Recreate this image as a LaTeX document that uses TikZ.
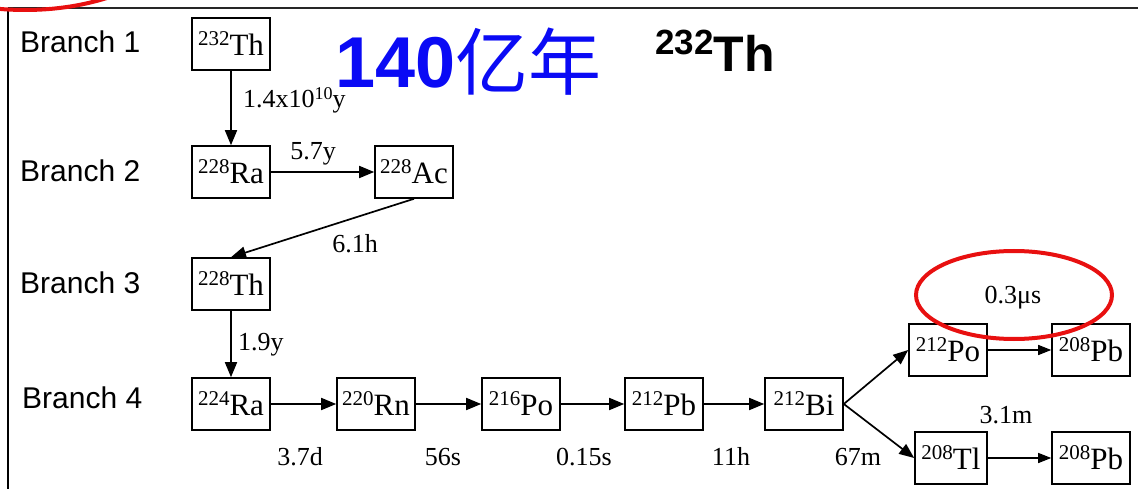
\documentclass[tikz,border=0pt]{standalone}
\usepackage{fontspec}
\setmainfont{Liberation Serif}
\setsansfont{Liberation Sans}
\newfontfamily\cjk{Noto Sans CJK SC}
\usetikzlibrary{arrows.meta}
\definecolor{markred}{RGB}{232,16,16}
\definecolor{titleblue}{RGB}{10,10,245}
\newcommand{\iso}[2]{\raisebox{10pt}{\fontsize{21}{21}\selectfont #1}#2}
\begin{document}
\begin{tikzpicture}[
x=1pt,
y=-1pt,
every node/.style={inner sep=0pt},
nuc/.style={draw,line width=1.6pt,minimum width=78pt,minimum height=52pt,font=\fontsize{31}{31}\selectfont},
hl/.style={font=\fontsize{26}{26}\selectfont,anchor=base},
br/.style={font=\sffamily\fontsize{30}{30}\selectfont,anchor=base west},
decay/.style={line width=1.7pt,-{Triangle[length=15pt,width=12pt]}},
thin/.style={line width=1.2pt,-{Triangle[length=13pt,width=10pt]}}
]
\useasboundingbox (0,0) rectangle (1138,489);
\draw[line width=2.4pt,black!85] (8,8)--(1138,8);
\draw[line width=1.8pt] (8,8)--(8,489);

\node[br] (b1) at (20,53) {Branch 1};
\node[br] (b2) at (20,182) {Branch 2};
\node[br] (b3) at (20,293) {Branch 3};
\node[br] (b4) at (22,408) {Branch 4};

\node[anchor=base west,text=titleblue,font=\sffamily\bfseries\fontsize{72}{72}\selectfont] (title) at (335,88)
  {140\cjk\mdseries\fontsize{73}{73}\selectfont\raisebox{-2pt}{亿年}};
\node[anchor=base west,font=\sffamily\bfseries] (head) at (655,72)
  {\raisebox{17pt}{\fontsize{35}{35}\selectfont 232}\fontsize{50}{50}\selectfont Th};

\node[nuc] (th232) at (231,44) {\iso{232}{Th}};
\node[nuc] (ra228) at (231,172) {\iso{228}{Ra}};
\node[nuc] (ac228) at (414,172) {\iso{228}{Ac}};
\node[nuc] (th228) at (231,284) {\iso{228}{Th}};
\node[nuc] (ra224) at (231,404) {\iso{224}{Ra}};
\node[nuc] (rn220) at (376,404) {\iso{220}{Rn}};
\node[nuc] (po216) at (521,404) {\iso{216}{Po}};
\node[nuc] (pb212) at (664,404) {\iso{212}{Pb}};
\node[nuc] (bi212) at (804,404) {\iso{212}{Bi}};
\node[nuc] (po212) at (948,350) {\iso{212}{Po}};
\node[nuc] (pb208a) at (1091,350) {\iso{208}{Pb}};
\node[nuc,minimum width=72pt] (tl208) at (951,458) {\iso{208}{Tl}};
\node[nuc] (pb208b) at (1091,458) {\iso{208}{Pb}};

\draw[decay] (th232)--(ra228);
\draw[decay] (ra228)--(ac228);
\draw[decay] (ac228.south)--(th228.north);
\draw[decay] (th228)--(ra224);
\draw[decay] (ra224)--(rn220);
\draw[decay] (rn220)--(po216);
\draw[decay] (po216)--(pb212);
\draw[decay] (pb212)--(bi212);
\draw[decay] (bi212.east)--(po212.west);
\draw[decay] (bi212.east)--(tl208.west);
\draw[thin] (po212)--(pb208a);
\draw[thin] (tl208)--(pb208b);

\node[hl,anchor=base west] (t1) at (243,108) {1.4x10\raisebox{8pt}{\fontsize{18}{18}\selectfont 10}y};
\node[hl] (t2) at (313,160) {5.7y};
\node[hl] (t3) at (355,252) {6.1h};
\node[hl,anchor=base west] (t4) at (238,350) {1.9y};
\node[hl] (t5) at (300,465) {3.7d};
\node[hl] (t6) at (443,465) {56s};
\node[hl] (t7) at (584,465) {0.15s};
\node[hl] (t8) at (731,465) {11h};
\node[hl] (t9) at (858,465) {67m};
\node[hl] (t10) at (1006,423) {3.1m};
\node[hl] (t11) at (1013,303) {0.3μs};

% red marks
\draw[markred,line width=4pt] (1014,295) ellipse [x radius=98,y radius=44];
\draw[markred,line width=4pt] (25,-100) ellipse [x radius=180,y radius=110];
\end{tikzpicture}
\end{document}
